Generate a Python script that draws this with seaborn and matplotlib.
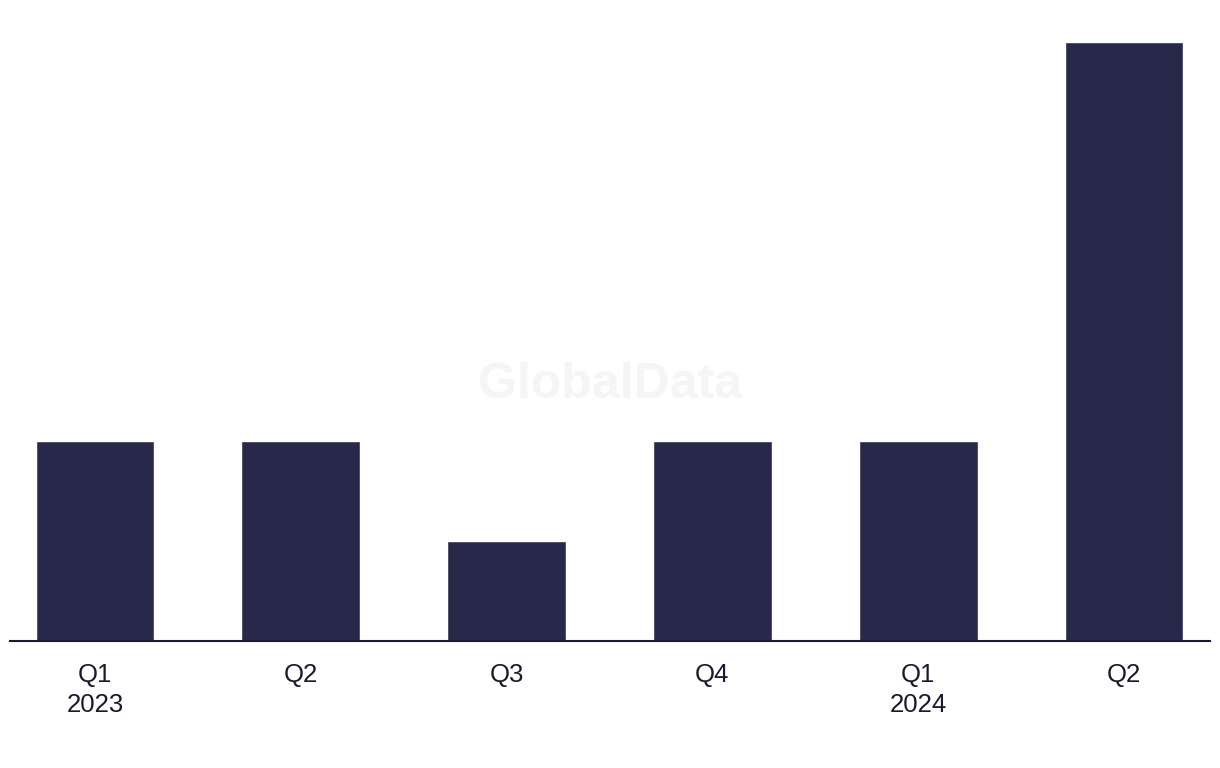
import matplotlib
matplotlib.use("Agg")
import matplotlib.pyplot as plt
import seaborn as sns
import pandas as pd

quarters = ["Q1\n2023", "Q2", "Q3", "Q4", "Q1\n2024", "Q2"]
keys = ["Q1 2023", "Q2 2023", "Q3 2023", "Q4 2023", "Q1 2024", "Q2 2024"]
values = [2, 2, 1, 2, 2, 6]

sns.set_theme(style="white")
plt.rcParams['font.family'] = ['Liberation Sans', 'DejaVu Sans']

df = pd.DataFrame({"key": keys, "value": values})

fig = plt.figure(figsize=(12.2, 7.68), dpi=100)
ax = fig.add_axes([10/1220, 127/768, 1200/1220, (641-22)/768])
sns.barplot(data=df, x="key", y="value", color="#28284a", saturation=1,
            width=0.578, ax=ax)
ax.set_xlim(-0.413, 5.418)
ax.set_ylim(0, 6.2)
ax.set_xticks(range(len(quarters)))
ax.set_xticklabels(quarters, fontsize=18.5, color="#1a1a2e", linespacing=1.3)
ax.tick_params(axis="x", length=0, pad=16)
ax.set_yticks([])
ax.set_xlabel("")
ax.set_ylabel("")
for s in ["top", "right", "left"]:
    ax.spines[s].set_visible(False)
ax.spines["bottom"].set_color("#1a1a2e")
ax.spines["bottom"].set_linewidth(1.5)

fig.text(610/1220, 1 - 385/768, "GlobalData", ha="center", va="center",
         fontsize=36, fontweight="bold", color="#f5f5f5", zorder=0)

fig.savefig("out.png", dpi=100)
